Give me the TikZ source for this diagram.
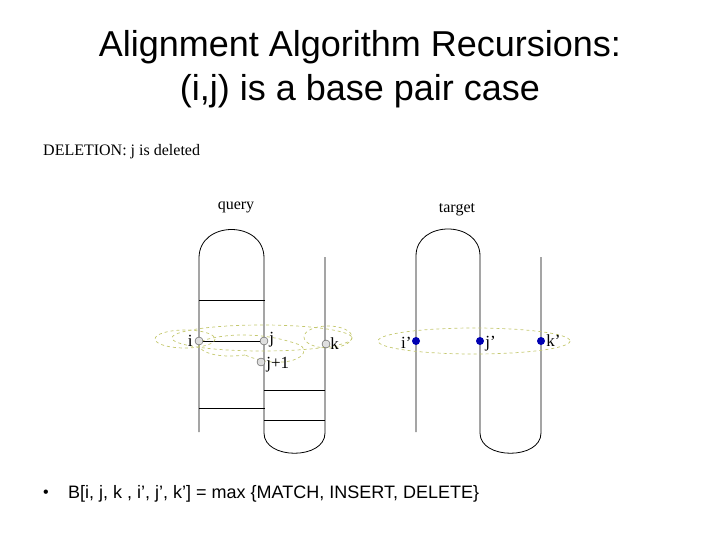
\documentclass[tikz,border=0pt]{standalone}
\usepackage{fontspec}
\setmainfont{Liberation Serif}
\newfontfamily\sansf{Liberation Sans}
\definecolor{blobc}{RGB}{196,200,110}
\begin{document}
\begin{tikzpicture}[x=1pt,y=-1pt,
  strand/.style={line width=0.8pt},
  blob/.style={draw=blobc, dashed, line width=0.7pt},
  qdot/.style={circle,draw=black!70,fill=gray!25,inner sep=0pt,minimum size=8pt},
  tdot/.style={circle,fill=blue!70!black,inner sep=0pt,minimum size=8pt},
  lab/.style={font=\fontsize{17}{17}\selectfont}]
\useasboundingbox (0,0) rectangle (720,540);
% titles
\node[font=\sansf\fontsize{36}{36}\selectfont] (t1) at (360,47) {Alignment Algorithm Recursions:};
\node[font=\sansf\fontsize{36}{36}\selectfont] (t2) at (360,91) {(i,j) is a base pair case};
\node[anchor=west,font=\fontsize{16}{16}\selectfont,inner sep=0pt] (del) at (43,152) {DELETION: j is deleted};
\node[font=\fontsize{16}{16}\selectfont] (q) at (236,207) {query};
\node[font=\fontsize{16}{16}\selectfont] (tg) at (457,210) {target};
% query strands
\draw[strand] (199,432) -- (199,258) .. controls (199,220) and (264,220) .. (264,258) -- (264,433) .. controls (264,460) and (325,460) .. (325,433) -- (325,257);
\draw[strand] (199,300) -- (265,300);
\draw[strand] (199,341) -- (264,341);
\draw[strand] (199,408) -- (265,408);
\draw[strand] (264,390) -- (325,390);
\draw[strand] (264,420) -- (325,420);
% target strands
\draw[strand] (416,432) -- (416,256) .. controls (416,220) and (480,220) .. (480,256) -- (480,433) .. controls (480,460) and (541,460) .. (541,433) -- (541,257);
% blobs
\draw[blob] (262,338) ellipse (90 and 13);
\draw[blob] (185,339) ellipse (30 and 9);
\draw[blob] (328,337) ellipse (24 and 11);
\draw[blob] (245,355) .. controls (205,360) and (190,345) .. (205,340) .. controls (220,335) and (260,330) .. (300,345) .. controls (315,355) and (285,372) .. (245,355);
\draw[blob] (474,341) ellipse (96 and 13);
% dots
\node[qdot] (i) at (199,341) {};
\node[qdot] (j) at (264,341) {};
\node[qdot] (j1) at (261,362) {};
\node[qdot] (k) at (326,344) {};
\node[tdot] (ip) at (416,341) {};
\node[tdot] (jp) at (480,341) {};
\node[tdot] (kp) at (541,341) {};
\node[lab,anchor=east,inner sep=2pt] at (i.west) {i};
\node[lab,anchor=west,inner sep=1pt] at ([yshift=1pt]j.east) {j};
\node[lab,anchor=west,inner sep=1pt] at ([yshift=-3pt]j1.east) {j+1};
\node[lab,anchor=west,inner sep=0pt] at (k.east) {k};
\node[lab,anchor=east,inner sep=0pt] at ([yshift=-2pt]ip.west) {i’};
\node[lab,anchor=west,inner sep=1pt] at ([yshift=-3pt]jp.east) {j’};
\node[lab,anchor=west,inner sep=1pt] at (kp.east) {k’};
% bullet
\node[font=\sansf\fontsize{16}{16}\selectfont] (b) at (46,494) {•};
\node[anchor=west,font=\sansf\fontsize{18}{18}\selectfont,inner sep=0pt] (eq) at (68,494) {B[i, j, k , i’, j’, k’] = max \{MATCH, INSERT, DELETE\}};
\end{tikzpicture}
\end{document}
